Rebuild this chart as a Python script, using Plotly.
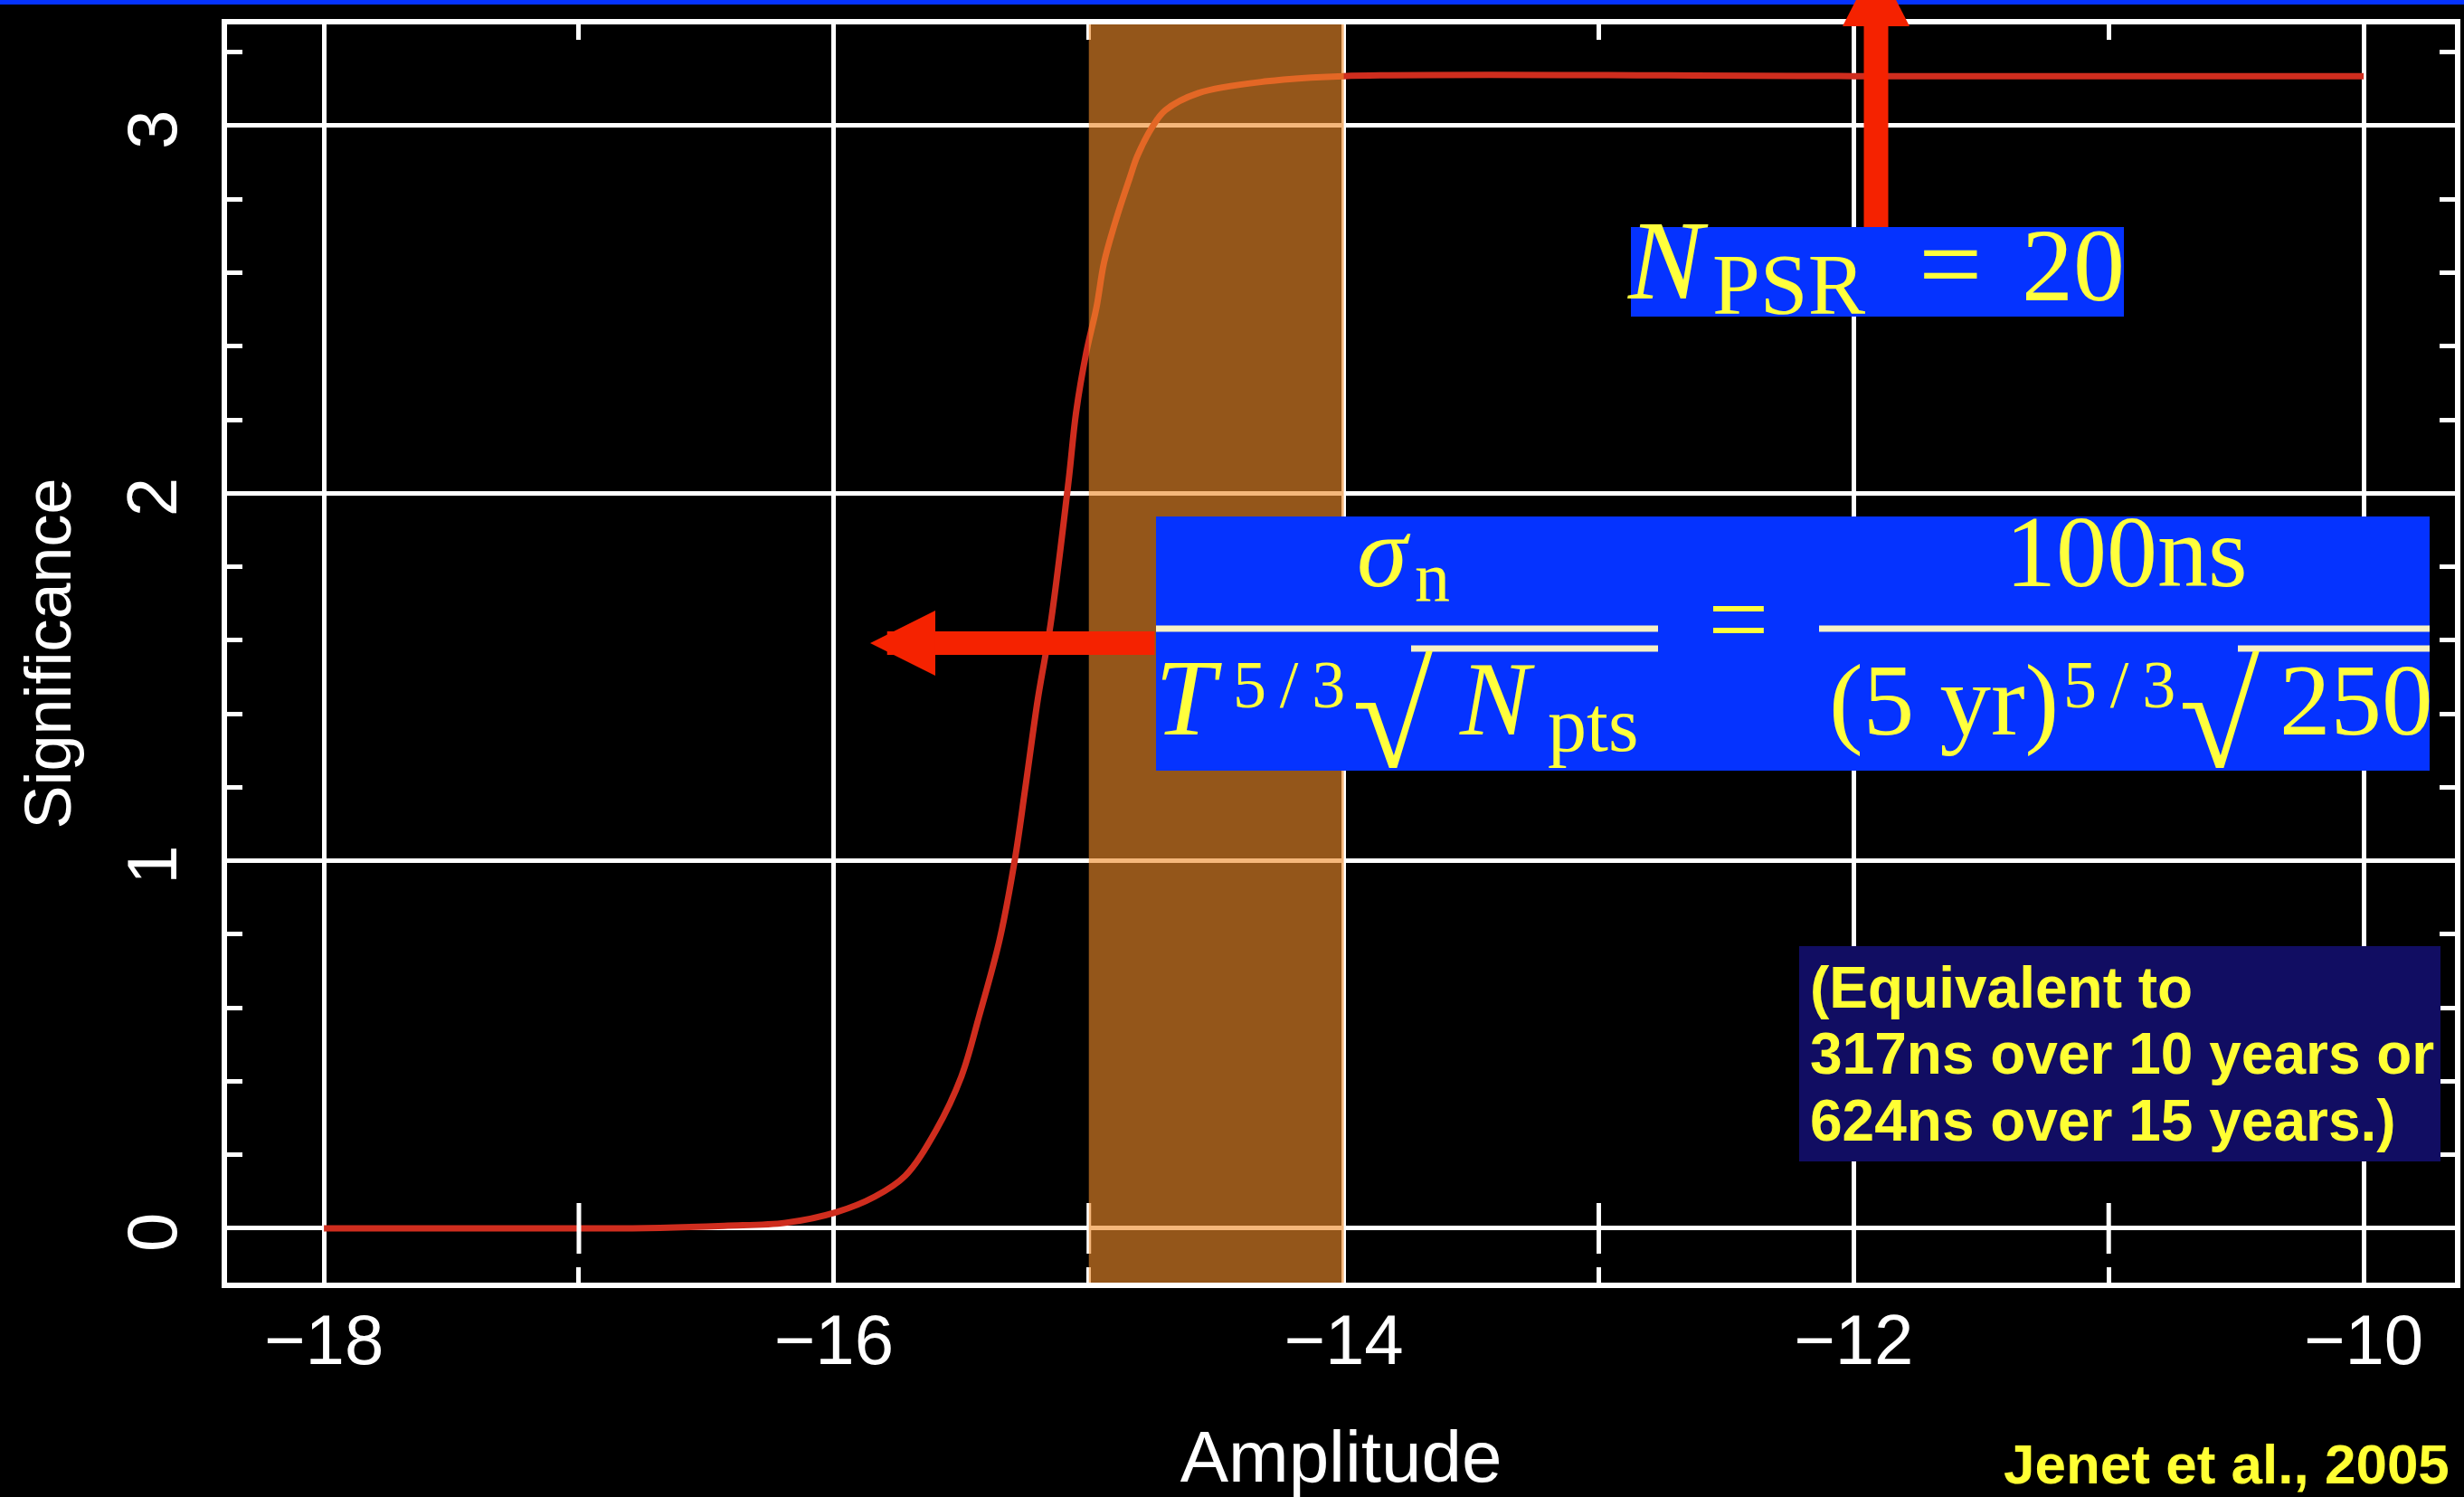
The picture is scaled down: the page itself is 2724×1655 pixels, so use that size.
import plotly.graph_objects as go

# ---------------------------------------------------------------------------
# Detection significance versus log10 GW background amplitude
# ---------------------------------------------------------------------------
amplitude = [-18.0, -17.0, -16.79, -16.43, -16.19, -15.99, -15.84, -15.72,
             -15.60, -15.50, -15.43, -15.35, -15.29, -15.25, -15.20, -15.15,
             -15.08, -15.05, -15.01, -14.97, -14.94, -14.89, -14.84, -14.81,
             -14.75, -14.70, -14.57, -14.30, -14.0, -12.0, -10.0]
significance = [0.0, 0.0, 0.0, 0.007, 0.015, 0.044, 0.086, 0.143,
                0.266, 0.413, 0.578, 0.785, 1.004, 1.194, 1.44, 1.644,
                2.03, 2.22, 2.383, 2.506, 2.629, 2.752, 2.857, 2.917,
                2.998, 3.042, 3.089, 3.121, 3.135, 3.135, 3.135]

# expected amplitude band (log10 A)
band_low, band_high = -15.0, -14.0

# minor amplitude marks repeated on the zero-significance line
zero_line_ticks = [-17, -15, -13, -11]
zero_line_level = [0, 0, 0, 0]

x_range = [-18.380, -9.642]
y_range = [-0.1477, 3.2756]

# ---------------------------------------------------------------------------
FIG_W, FIG_H = 2724, 1655
M_L, M_R, M_T, M_B = 251, 10, 27, 237
PLOT_W = FIG_W - M_L - M_R
PLOT_H = FIG_H - M_T - M_B

SERIF = "Liberation Serif"
SANS = "Liberation Sans"
YELLOW = "#ffff3c"
BLUE = "#0533ff"
NAVY = "#110d62"
ARROW_RED = "#f52200"
CURVE_RED = "#cf2d1e"
THIN = "\u2009"


def px_x(px):
    return (px - M_L) / PLOT_W


def px_y(py):
    return (FIG_H - M_B - py) / PLOT_H


fig = go.Figure()

fig.add_trace(go.Scatter(
    x=amplitude, y=significance, mode="lines",
    line=dict(color=CURVE_RED, width=7, shape="spline", smoothing=1.0),
    hoverinfo="skip"))

fig.add_trace(go.Scatter(
    x=zero_line_ticks, y=zero_line_level, mode="markers",
    marker=dict(symbol="line-ns", size=40,
                line=dict(color="white", width=5)),
    hoverinfo="skip"))

axis_common = dict(
    automargin=False,
    showgrid=True, gridcolor="white", gridwidth=5,
    showline=True, linecolor="white", linewidth=6, mirror="allticks",
    ticks="inside", ticklen=17, tickwidth=5, tickcolor="white",
    zeroline=False,
    tickfont=dict(family=SANS, size=78, color="white"),
)

fig.update_layout(
    width=FIG_W, height=FIG_H,
    margin=dict(l=M_L, r=M_R, t=M_T, b=M_B, pad=0, autoexpand=False),
    paper_bgcolor="black", plot_bgcolor="black",
    showlegend=False,
    xaxis=dict(
        range=x_range, tickmode="linear", tick0=-18, dtick=2,
        minor=dict(tick0=-18, dtick=1, ticks="inside", ticklen=17,
                   tickwidth=5, tickcolor="white", showgrid=False),
        ticklabelstandoff=-10,
        title=dict(text="Amplitude", standoff=76,
                   font=dict(family=SANS, size=80, color="white")),
        **axis_common),
    yaxis=dict(
        range=y_range, tickmode="linear", tick0=0, dtick=1,
        minor=dict(tick0=0, dtick=0.2, ticks="inside", ticklen=17,
                   tickwidth=5, tickcolor="white", showgrid=False),
        tickangle=-90, ticklabelstandoff=19, ticklabelshift=16,
        title=dict(text="Significance", standoff=24,
                   font=dict(family=SANS, size=72, color="white")),
        **axis_common),
)

shapes = []
# translucent amplitude band over the curve and grid
shapes.append(dict(type="rect", xref="x", yref="paper",
                   x0=band_low, x1=band_high, y0=0, y1=1,
                   fillcolor="rgba(239,139,42,0.62)", line=dict(width=0),
                   layer="above"))
# blue rule along the top edge
shapes.append(dict(type="rect", xref="paper", yref="paper",
                   x0=px_x(0), x1=px_x(FIG_W), y0=px_y(5), y1=px_y(0),
                   fillcolor=BLUE, line=dict(width=0), layer="above"))
# upward arrow from the pulsar-count label (shaft + head)
shapes.append(dict(type="rect", xref="paper", yref="paper",
                   x0=px_x(2060.5), x1=px_x(2087.5),
                   y0=px_y(251), y1=px_y(28),
                   fillcolor=ARROW_RED, line=dict(width=0), layer="above"))
shapes.append(dict(type="path", xref="paper", yref="paper",
                   path="M {:.5f},{:.5f} L {:.5f},{:.5f} L {:.5f},{:.5f} Z".format(
                       px_x(2037), px_y(29), px_x(2111), px_y(29),
                       px_x(2074), px_y(-43)),
                   fillcolor=ARROW_RED, line=dict(width=0), layer="above"))
# annotation panels
shapes.append(dict(type="rect", xref="paper", yref="paper",
                   x0=px_x(1803), x1=px_x(2348), y0=px_y(350), y1=px_y(251),
                   fillcolor=BLUE, line=dict(width=0), layer="above"))
shapes.append(dict(type="rect", xref="paper", yref="paper",
                   x0=px_x(1278), x1=px_x(2686), y0=px_y(852), y1=px_y(571),
                   fillcolor=BLUE, line=dict(width=0), layer="above"))
shapes.append(dict(type="rect", xref="paper", yref="paper",
                   x0=px_x(1989), x1=px_x(2698), y0=px_y(1284), y1=px_y(1046),
                   fillcolor=NAVY, line=dict(width=0), layer="above"))
# fraction bars and radical overlines
for x0, x1, yy in [(1278, 1833, 695), (2011, 2686, 695),
                   (1560, 1833, 717), (2474, 2686, 717)]:
    shapes.append(dict(type="line", xref="paper", yref="paper",
                       x0=px_x(x0), x1=px_x(x1), y0=px_y(yy), y1=px_y(yy),
                       line=dict(color="#f6f2c4", width=7), layer="above"))
fig.update_layout(shapes=shapes)


def text_at(txt, x_px, baseline_px, size, family=SERIF, color=YELLOW,
            anchor="left"):
    mid = 0.3375 if family == SERIF else 0.3465
    fig.add_annotation(
        text=txt, xref="paper", yref="paper",
        x=px_x(x_px), y=px_y(baseline_px - mid * size),
        xanchor=anchor, yanchor="middle", showarrow=False, borderpad=0,
        font=dict(family=family, size=size, color=color))


# N_PSR = 20
text_at("<i>N</i>", 1798, 330, 124)
text_at("PSR", 1892, 347, 95)
text_at("=", 2156, 334, 125, anchor="center")
text_at("20", 2234, 332, 114)

# sigma_n / (T^{5/3} sqrt(N_pts)) = 100ns / ((5 yr)^{5/3} sqrt(250))
five_thirds = "5" + THIN + "/" + THIN + "3"
text_at("<i>σ</i>", 1499, 648, 113)
text_at("n", 1563, 665, 78)
text_at("100ns", 2351, 648, 112, anchor="center")
text_at("=", 1922, 725, 120, anchor="center")
text_at("<i>T</i>", 1276, 812, 120)
text_at(five_thirds, 1362, 782, 74)
text_at("√", 1494, 848, 162)
text_at("<i>N</i>", 1612, 812, 116)
text_at("pts", 1710, 830, 86)
text_at("(5 yr)", 2021, 812, 113)
text_at(five_thirds, 2280, 782, 74)
text_at("√", 2408, 848, 162)
text_at("250", 2519, 812, 113)

# equivalence note
for line, base in [("(Equivalent to", 1114),
                   ("317ns over 10 years or", 1187),
                   ("624ns over 15 years.)", 1261)]:
    text_at("<b>" + line + "</b>", 2000, base, 64, family=SANS,
            color="#ffff33")

text_at("<b>Jenet et al., 2005</b>", 2709, 1640, 62, family=SANS,
        color="#ffff33", anchor="right")

# leftward arrow from the noise-level panel (tip at x, y)
head_scale = 14.4
fig.add_annotation(
    text=" ", xref="paper", yref="paper",
    x=px_x(962), y=px_y(711), ax=1277 - 962, ay=0,
    showarrow=True, arrowhead=2, arrowwidth=26,
    arrowsize=head_scale / 26, arrowcolor=ARROW_RED,
    font=dict(size=1), borderpad=0)

fig.write_html("out.html")
